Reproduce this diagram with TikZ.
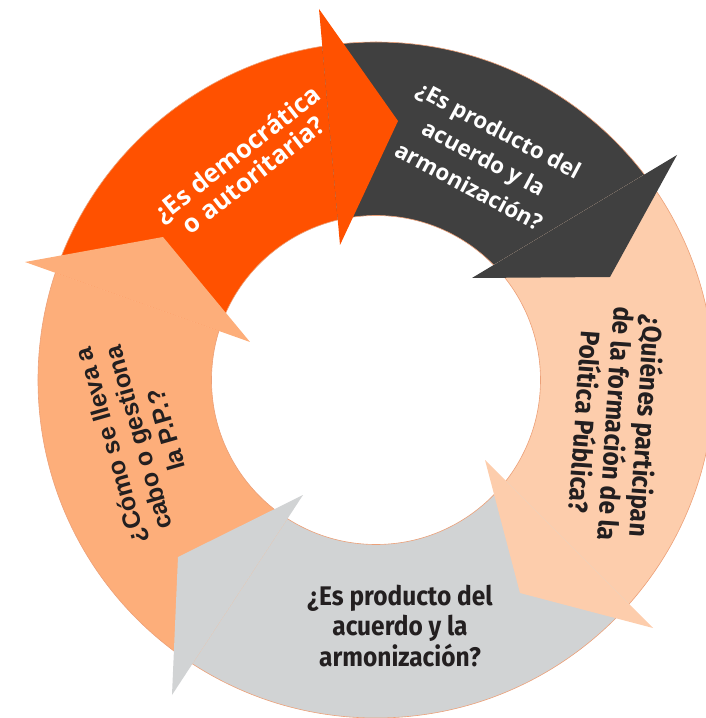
\documentclass[tikz,border=0pt]{standalone}
\usepackage{fontspec}
\setmainfont{Open Sans}
\newfontfamily\condfont[FakeStretch=0.91]{Fira Sans}
\newfontfamily\arialfont{Liberation Sans}
\usetikzlibrary{calc}
\definecolor{cicloorange}{RGB}{255, 81, 0}
\definecolor{ciclodark}{RGB}{64, 64, 64}
\definecolor{ciclopeach}{RGB}{253, 205, 172}
\definecolor{ciclogray}{RGB}{209, 211, 212}
\definecolor{ciclosalmon}{RGB}{253, 174, 122}
\definecolor{cicloedge}{RGB}{236, 160, 120}
\definecolor{ciclotext}{RGB}{35, 31, 32}
\tikzset{
  question/.style={align=center, inner sep=0pt},
  lighttext/.style={question, text=white, font=\bfseries},
  darktext/.style={question, text=ciclotext, font=\condfont\bfseries\fontsize{27}{31}\selectfont}
}

\begin{document}
\begin{tikzpicture}[x=1bp,y=1bp]
    \useasboundingbox (-376,-338) rectangle (330,380);
    % heads: outer barb, inner barb, tip
    \coordinate (o1) at (-57,371);  \coordinate (i1) at (-36,135);  \coordinate (t1) at (22,259);
    \coordinate (o2) at (301,225);  \coordinate (i2) at (96,102);   \coordinate (t2) at (234,103);
    \coordinate (o3) at (277,-248); \coordinate (i3) at (109,-80);  \coordinate (t3) at (144,-213);
    \coordinate (o4) at (-204,-315);\coordinate (i4) at (-73,-115); \coordinate (t4) at (-198,-177);
    \coordinate (o5) at (-351,118); \coordinate (i5) at (-126,38);  \coordinate (t5) at (-213,143);
    \foreach \prev/\cur/\col in {5/1/cicloorange,1/2/ciclodark,2/3/ciclopeach,3/4/ciclogray,4/5/ciclosalmon}{
      \begin{scope}
        \clip (0,0) -- (i\prev) -- ($(i\prev)!3!(o\prev)$) -- ($(i\cur)!3!(o\cur)$) -- (i\cur) -- cycle;
        \fill[\col, even odd rule] (0,0) circle (338) (0,0) circle (164.5);
      \end{scope}
    }
    \draw[cicloedge, line width=0.6bp] (0,0) circle (338) (0,0) circle (164.5);
    \foreach \k/\col in {1/cicloorange,2/ciclodark,3/ciclopeach,4/ciclogray,5/ciclosalmon}
      \fill[\col] (o\k) -- (t\k) -- (i\k) -- cycle;
    \node[lighttext, rotate=38, font=\bfseries\fontsize{25.5}{27}\selectfont] (democratica) at (-131,216) {¿Es democrática\\o autoritaria?};
    \node[lighttext, rotate=-28, font=\bfseries\fontsize{22.5}{32}\selectfont] (acuerdoa) at (108,222) {¿Es producto del\\acuerdo y la\\armonización?};
    \node[darktext, rotate=-94] (quienes) at (241,-44) {¿Quiénes participan\\de la formación de la\\Política Pública?};
    \node[darktext] (acuerdob) at (24,-246) {¿Es producto del\\acuerdo y la\\armonización?};
    \node[question, rotate=106, text=ciclotext, font=\arialfont\bfseries\fontsize{25}{29}\selectfont] (gestiona) at (-238,-58) {¿Cómo se lleva a\\cabo o gestiona\\la P.P.?};
\end{tikzpicture}
\end{document}
